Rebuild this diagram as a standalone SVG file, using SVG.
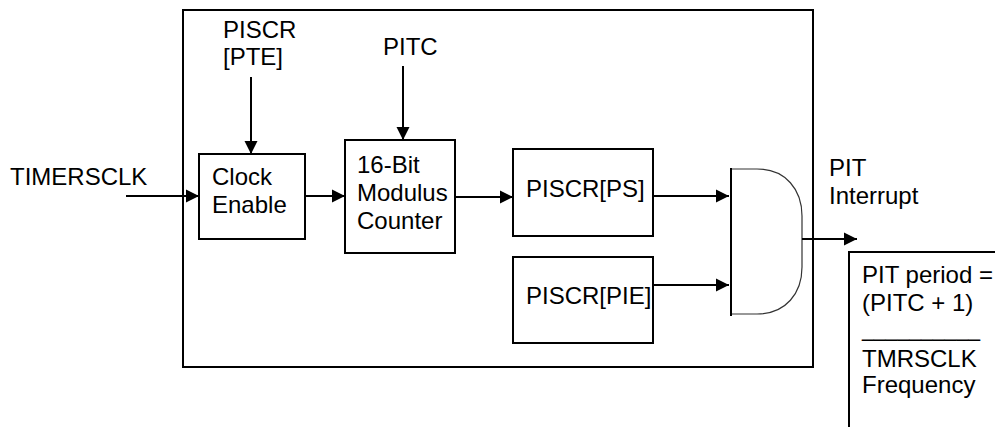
<svg xmlns="http://www.w3.org/2000/svg" width="995" height="427" viewBox="0 0 995 427">
<style>
text{font-family:"Liberation Sans",Arial,sans-serif;font-size:24px;fill:#000}
.box{fill:none;stroke:#000;stroke-width:2}
.wire{fill:none;stroke:#000;stroke-width:2}
</style>
<defs>
<marker id="ah" markerWidth="14" markerHeight="14" refX="13" refY="7" orient="auto" markerUnits="userSpaceOnUse">
<path d="M0,0.5 L13,7 L0,13.5 Z" fill="#000"/>
</marker>
</defs>
<rect width="995" height="427" fill="#fff"/>
<g id="outer"><rect class="box" x="183" y="10" width="630" height="357"/></g>
<g id="clock-enable">
<rect class="box" x="199" y="154" width="106" height="85"/>
<text x="212" y="185">Clock</text>
<text x="212" y="213">Enable</text>
</g>
<g id="counter">
<rect class="box" x="345" y="140" width="110" height="113"/>
<text x="357" y="173">16-Bit</text>
<text x="357" y="201">Modulus</text>
<text x="357" y="229">Counter</text>
</g>
<g id="ps">
<rect class="box" x="513" y="149" width="140" height="87"/>
<text x="526" y="197">PISCR[PS]</text>
</g>
<g id="pie">
<rect class="box" x="513" y="257" width="140" height="86"/>
<text x="526" y="304">PISCR[PIE]</text>
</g>
<g id="and-gate">
<path d="M731,169 L757,169 C786,169 802,190 802,216 L802,267 C802,293 786,314 757,314 L731,314" fill="none" stroke="#333" stroke-width="1.2"/>
<line x1="731" y1="168" x2="731" y2="316" stroke="#000" stroke-width="2"/>
</g>
<g id="labels">
<text x="10" y="185">TIMERSCLK</text>
<text x="223" y="38">PISCR</text>
<text x="223" y="65">[PTE]</text>
<text x="383" y="55">PITC</text>
<text x="829" y="176">PIT</text>
<text x="829" y="204">Interrupt</text>
</g>
<g id="formula">
<path class="wire" d="M995,252 L849,252 L849,427"/>
<text x="862" y="283">PIT period =</text>
<text x="862" y="311">(PITC + 1)</text>
<text x="862" y="336" textLength="118" lengthAdjust="spacingAndGlyphs">__________</text>
<text x="862" y="367">TMRSCLK</text>
<text x="862" y="393">Frequency</text>
</g>
<g id="connectors">
<line class="wire" x1="126" y1="196" x2="199" y2="196" marker-end="url(#ah)"/>
<line class="wire" x1="305" y1="196" x2="345" y2="196" marker-end="url(#ah)"/>
<line class="wire" x1="455" y1="197" x2="513" y2="197" marker-end="url(#ah)"/>
<line class="wire" x1="653" y1="196" x2="729" y2="196" marker-end="url(#ah)"/>
<line class="wire" x1="653" y1="285" x2="729" y2="285" marker-end="url(#ah)"/>
<line class="wire" x1="251" y1="77" x2="251" y2="154" marker-end="url(#ah)"/>
<line class="wire" x1="403" y1="66" x2="403" y2="140" marker-end="url(#ah)"/>
<line class="wire" x1="802" y1="239" x2="857" y2="239" marker-end="url(#ah)"/>
</g>
</svg>
